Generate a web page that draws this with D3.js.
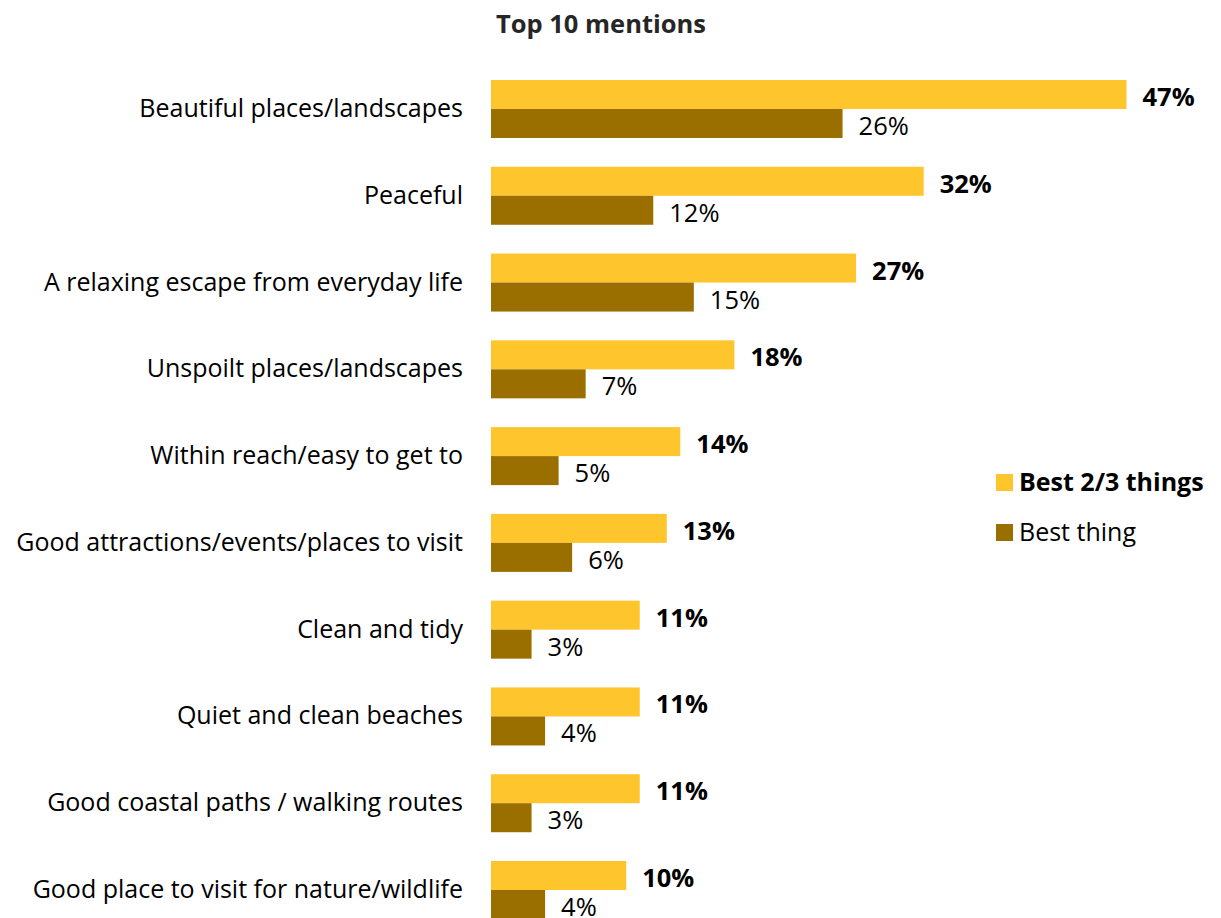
<!DOCTYPE html>
<html>
<head>
<meta charset="utf-8">
<script src="https://cdn.jsdelivr.net/npm/d3@7"></script>
<style>
  html, body { margin: 0; padding: 0; background: #fff; }
  svg { display: block; font-family: "Open Sans", "Noto Sans", sans-serif; }
</style>
</head>
<body>
<svg id="chart" width="1221" height="918"></svg>
<script>
const categories = [
  "Beautiful places/landscapes",
  "Peaceful",
  "A relaxing escape from everyday life",
  "Unspoilt places/landscapes",
  "Within reach/easy to get to",
  "Good attractions/events/places to visit",
  "Clean and tidy",
  "Quiet and clean beaches",
  "Good coastal paths / walking routes",
  "Good place to visit for nature/wildlife"
];
const best23 = [47, 32, 27, 18, 14, 13, 11, 11, 11, 10];
const bestOne = [26, 12, 15, 7, 5, 6, 3, 4, 3, 4];
const seriesNames = ["Best 2/3 things", "Best thing"];
const seriesColors = ["#FFC52C", "#9A6F00"];
const chartTitle = "Top 10 mentions";

const svg = d3.select("#chart");

const x = d3.scaleLinear().domain([0, 47]).range([491, 1126.5]);
const y = d3.scaleBand().domain(categories).range([80, 919]).paddingInner(0.3316).paddingOuter(0);
const sub = d3.scaleBand().domain([0, 1]).range([0, y.bandwidth()]);

svg.append("text")
  .attr("x", 601).attr("y", 33)
  .attr("text-anchor", "middle")
  .attr("font-weight", "bold")
  .attr("font-size", 25.5)
  .attr("fill", "#262626")
  .text(chartTitle);

const rows = svg.append("g").selectAll("g")
  .data(categories.map((c, i) => ({ c, v: [best23[i], bestOne[i]] })))
  .join("g")
  .attr("transform", d => `translate(0,${y(d.c)})`);

rows.append("text")
  .attr("x", 463)
  .attr("y", y.bandwidth() / 2 + 8)
  .attr("text-anchor", "end")
  .attr("font-size", 25)
  .attr("fill", "#000")
  .text(d => d.c);

[0, 1].forEach(s => {
  rows.append("rect")
    .attr("x", x(0))
    .attr("y", sub(s))
    .attr("width", d => x(d.v[s]) - x(0))
    .attr("height", sub.bandwidth())
    .attr("fill", seriesColors[s]);

  rows.append("text")
    .attr("x", d => x(d.v[s]) + 16)
    .attr("y", sub(s) + sub.bandwidth() / 2 + 11.5)
    .attr("font-size", 25.5)
    .attr("font-weight", s === 0 ? "bold" : "normal")
    .attr("fill", "#000")
    .text(d => d.v[s] + "%");
});

const legend = svg.append("g").selectAll("g")
  .data(seriesNames)
  .join("g")
  .attr("transform", (d, i) => `translate(996,${474 + i 
* 50})`);
legend.append("rect")
  .attr("width", 17).attr("height", 17)
  .attr("fill", (d, i) => seriesColors[i]);
legend.append("text")
  .attr("x", 23).attr("y", 17)
  .attr("font-size", 25)
  .attr("font-weight", (d, i) => i === 0 ? "bold" : "normal")
  .attr("fill", "#000")
  .text(d => d);
</script>
</body>
</html>
